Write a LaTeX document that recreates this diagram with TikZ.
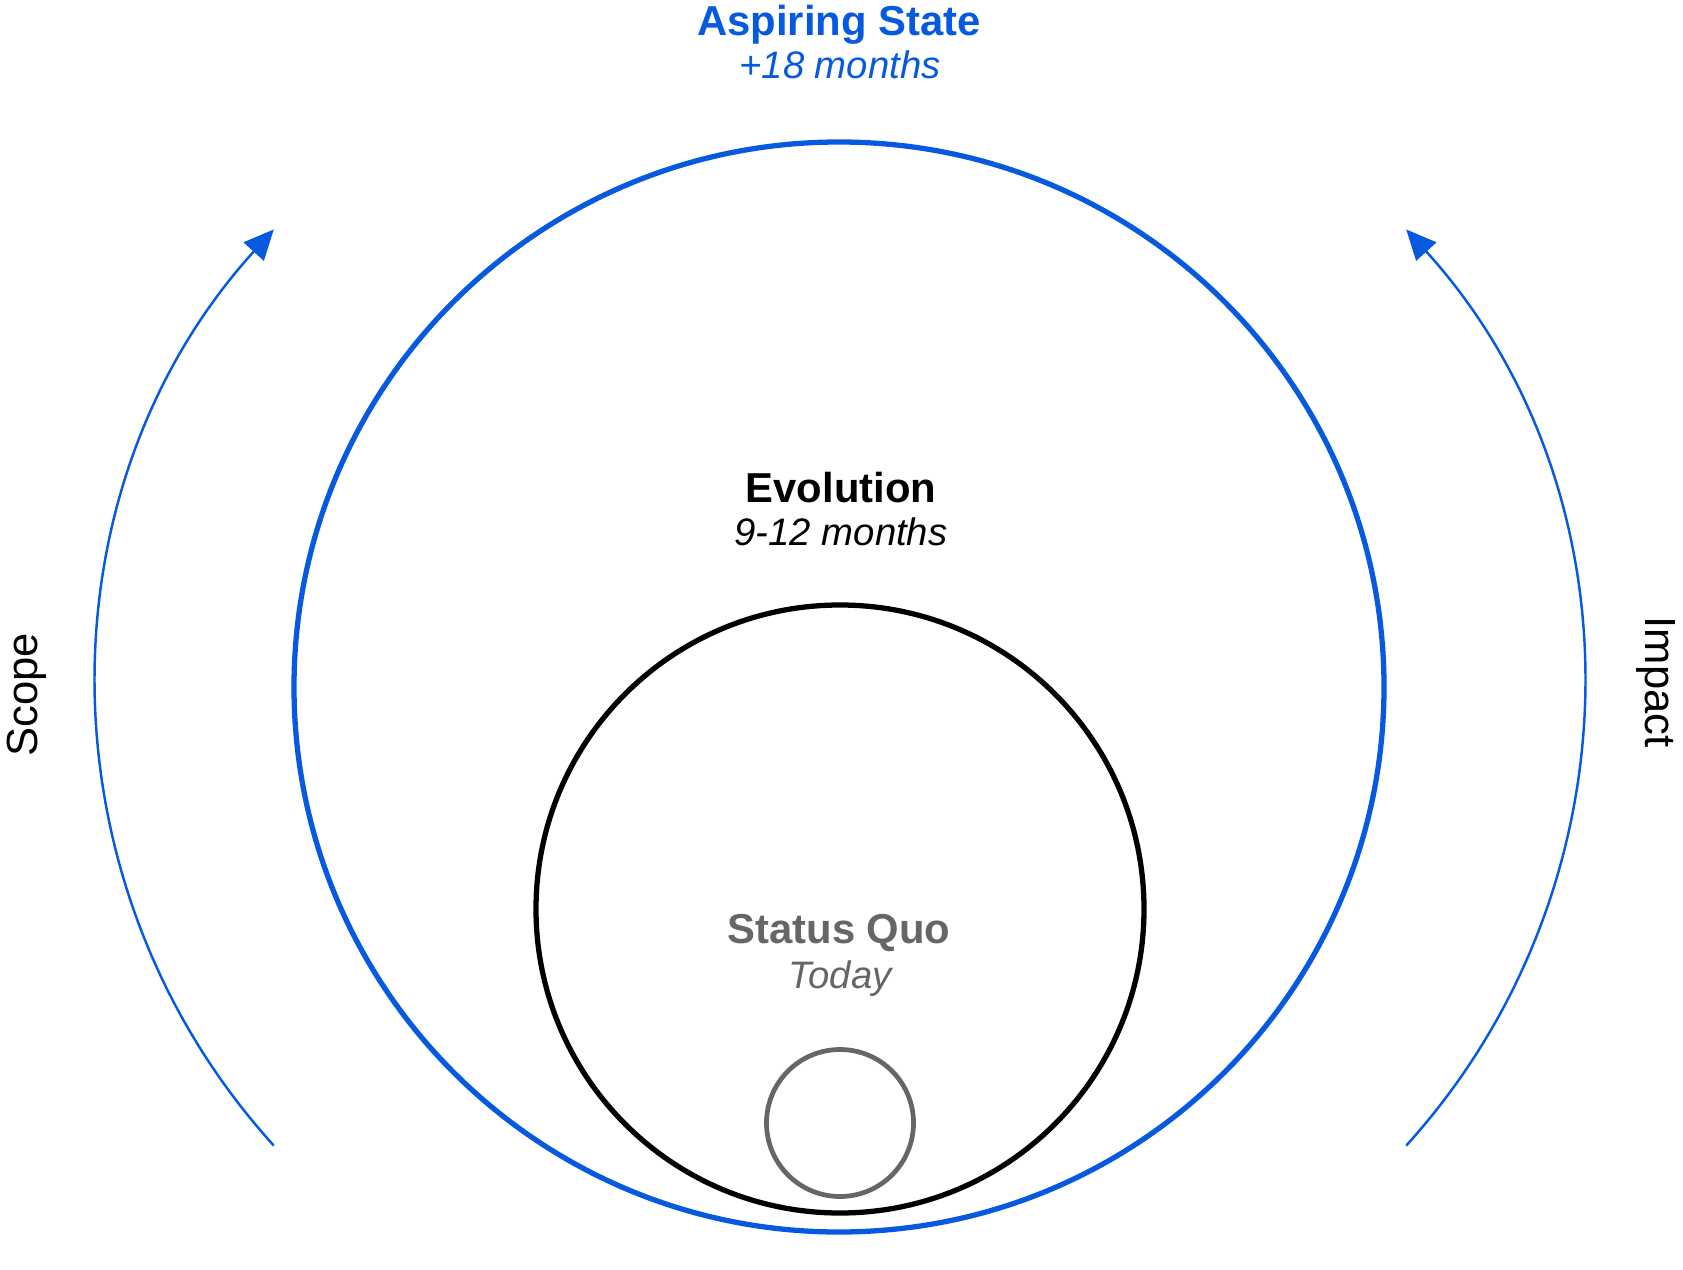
\documentclass[tikz,border=0pt]{standalone}
\usepackage{fontspec}
\setmainfont{Liberation Sans}
\usepackage{xcolor}
\usepackage{tikz}
\usetikzlibrary{arrows.meta}

\definecolor{aspblue}{HTML}{075ADF}
\definecolor{quogray}{HTML}{666666}

\tikzset{
  headtext/.style={anchor=base, font=\fontsize{11.9}{14}\selectfont\bfseries},
  subtext/.style={anchor=base, font=\fontsize{10.9}{13}\selectfont\itshape},
  sidetext/.style={anchor=base, font=\fontsize{12.4}{15}\selectfont},
  sidearc/.style={aspblue, line width=0.7pt, -{Triangle[length=0.3cm,width=0.27cm]}}
}

\begin{document}
\begin{tikzpicture}
\useasboundingbox (0,0) rectangle (16.83,12.69);

% ---- RINGS ----
\draw[aspblue, line width=1.5pt] (8.39,5.82) circle (5.45);
\draw[black, line width=1.5pt] (8.40,3.60) circle (3.04);
\draw[quogray, line width=1.35pt] (8.40,1.46) circle (0.735);

% ---- LABELS ----
\node[headtext, aspblue] (asptitle) at (8.39,12.33) {Aspiring State};
\node[subtext, aspblue] (aspsub) at (8.40,11.90) {+18 months};
\node[headtext] (evotitle) at (8.41,7.67) {Evolution};
\node[subtext] (evosub) at (8.41,7.24) {9-12 months};
\node[headtext, quogray] (quotitle) at (8.39,3.26) {Status Quo};
\node[subtext, quogray] (quosub) at (8.40,2.81) {Today};

% ---- SIDE ARROWS ----
\coordinate (scopestart) at ({7.79+6.82*cos(222.2)},{5.815+6.82*sin(222.2)});
\coordinate (impactstart) at ({9.01+6.82*cos(-42.2)},{5.815+6.82*sin(-42.2)});
\draw[sidearc] (scopestart) arc[start angle=222.2, end angle=137.8, radius=6.82];
\draw[sidearc] (impactstart) arc[start angle=-42.2, end angle=42.2, radius=6.82];

\node[sidetext, rotate=90] (scopelabel) at (0.38,5.74) {Scope};
\node[sidetext, rotate=-90] (impactlabel) at (16.45,5.87) {Impact};

\end{tikzpicture}
\end{document}
